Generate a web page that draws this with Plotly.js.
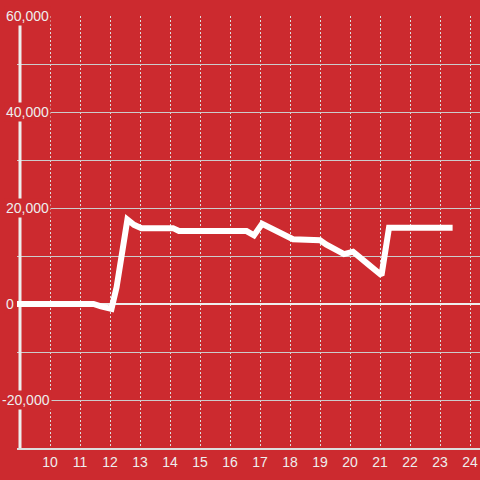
<!DOCTYPE html>
<html>
<head>
<meta charset="utf-8">
<script src="https://cdn.plot.ly/plotly-3.0.1.min.js"></script>
<style>html,body{margin:0;padding:0;background:#cc2a2f;}#chart{width:480px;height:480px;}</style>
</head>
<body>
<div id="chart"></div>
<script>
// ---- data ----
const xValues = [8.9, 11.45, 11.7, 12.05, 12.22, 12.4, 12.58, 12.8, 13.05, 14.1, 14.3, 16.55, 16.8, 17.07, 17.7, 18.1, 19.0, 19.2, 19.8, 20.1, 20.6, 21.05, 21.3, 23.42];
const yValues = [0, 0, -500, -1000, 3500, 11500, 17600, 16500, 15800, 15800, 15200, 15200, 14300, 16700, 14600, 13500, 13300, 12400, 10400, 10900, 8300, 6000, 15900, 15900];
const xTickVals = [10, 11, 12, 13, 14, 15, 16, 17, 18, 19, 20, 21, 22, 23, 24];
const xTickText = ['10', '11', '12', '13', '14', '15', '16', '17', '18', '19', '20', '21', '22', '23', '24'];
const yTickVals = [-20000, 0, 20000, 40000, 60000];
const yTickText = ['-20,000', '0', '20,000', '40,000', '60,000'];
const xRange = [8.9, 24.333];
const yRange = [-30000, 60000];

const bg = '#cc2a2f';
const textColor = '#eeeeee';
const font = {family: '"Liberation Sans", Arial, sans-serif', size: 14, color: textColor};

const trace = {
  x: xValues, y: yValues, type: 'scatter', mode: 'lines',
  line: {color: '#ffffff', width: 6},
  hoverinfo: 'skip', showlegend: false
};

const annotations = yTickVals.map((v, i) => ({
  xref: 'paper', yref: 'y', x: 0, y: v,
  xanchor: 'left', yanchor: 'middle',
  xshift: yTickText[i].startsWith('-') ? -17 : -13,
  text: yTickText[i], showarrow: false,
  bgcolor: bg, borderpad: 1, font: font
}));

const layout = {
  width: 480, height: 480,
  paper_bgcolor: bg, plot_bgcolor: bg,
  margin: {l: 17, r: 0, t: 16, b: 32},
  font: font,
  showlegend: false,
  xaxis: {
    range: xRange, tickmode: 'array', tickvals: xTickVals, ticktext: xTickText,
    showgrid: true, gridcolor: '#dddddd', gridwidth: 1, griddash: '2px,2px',
    zeroline: false, showline: true, linecolor: '#dddddd', linewidth: 2,
    ticks: '', tickfont: font, fixedrange: true
  },
  yaxis: {
    range: yRange, dtick: 10000, tick0: 0, showticklabels: false,
    showgrid: true, gridcolor: '#cccccc', gridwidth: 1,
    zeroline: true, zerolinecolor: '#eeeeee', zerolinewidth: 2,
    showline: false, ticks: '', fixedrange: true
  },
  shapes: [{
    type: 'line', xref: 'x', yref: 'y', x0: 9, x1: 9, y0: yRange[0], y1: yRange[1],
    line: {color: '#eeeeee', width: 3}, layer: 'between'
  }],
  annotations: annotations
};

Plotly.newPlot('chart', [trace], layout, {displayModeBar: false, staticPlot: true});
</script>
</body>
</html>
